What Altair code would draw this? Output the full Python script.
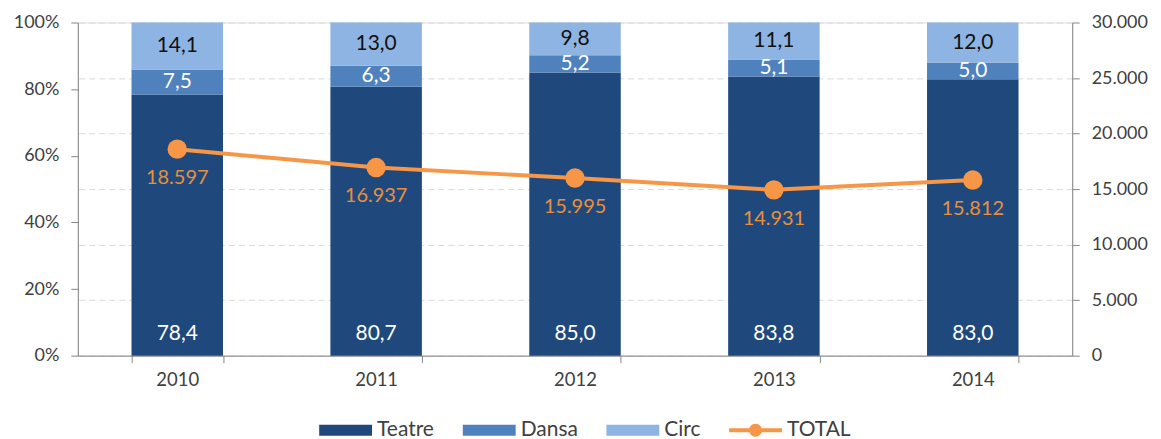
import altair as alt
import pandas as pd

years = ['2010', '2011', '2012', '2013', '2014']
teatre = [78.4, 80.7, 85.0, 83.8, 83.0]
dansa = [7.5, 6.3, 5.2, 5.1, 5.0]
circ = [14.1, 13.0, 9.8, 11.1, 12.0]
total = [18597, 16937, 15995, 14931, 15812]

series = ['Teatre', 'Dansa', 'Circ', 'TOTAL']
colors = ['#1F497D', '#4F81BD', '#8DB4E2', '#F79646']
label_colors = {'Teatre': '#FFFFFF', 'Dansa': '#FFFFFF', 'Circ': '#111111'}

FONT = 'Lato'
AXC = '#868686'
TXT = '#404040'

rows = []
for i, yr in enumerate(years):
    base = 0.0
    for k, (name, vals) in enumerate([('Teatre', teatre), ('Dansa', dansa), ('Circ', circ)]):
        v = vals[i]
        rows.append({'year': yr, 'serie': name, 'ord': k, 'pct': v / 100,
                     'mid': (base + v / 2) / 100,
                     'label': f'{v:.1f}'.replace('.', ','), 'lc': label_colors[name]})
        base += v
bars_df = pd.DataFrame(rows)

tot_df = pd.DataFrame({'year': years, 'total': total, 'serie': ['TOTAL'] * len(years),
                       'label': [f'{t:,}'.replace(',', '.') for t in total]})

rect_path = 'M-1,-0.21H1V0.21H-1Z'
tot_path = ('M-1,-0.075H1V0.075H-1Z '
            'M0.245,0A0.245,0.245,0,1,1,-0.245,0A0.245,0.245,0,1,1,0.245,0Z')
shapes = [rect_path, rect_path, rect_path, tot_path]

color_scale = alt.Scale(domain=series, range=colors)
shape_scale = alt.Scale(domain=series, range=shapes)

legend = alt.Legend(orient='none', legendX=242, legendY=382, direction='horizontal',
                    title=None, labelFont=FONT, labelFontSize=21, labelColor=TXT,
                    symbolSize=2809, symbolOpacity=1, symbolStrokeWidth=0,
                    columnPadding=28, labelOffset=5, padding=0)

xenc = alt.X('year:N', title=None, sort=years,
             scale=alt.Scale(paddingInner=0.54, paddingOuter=0.27),
             axis=alt.Axis(labelAngle=0, tickBand='extent', domainColor=AXC, tickColor=AXC,
                           tickSize=7, labelFont=FONT, labelFontSize=18.5, labelColor=TXT,
                           labelPadding=8, grid=False))

yL = alt.Y('pct:Q', stack='zero', title=None,
           scale=alt.Scale(domain=[0, 1], nice=False),
           axis=alt.Axis(format='.0%', values=[0, 0.2, 0.4, 0.6, 0.8, 1.0], grid=False,
                         domainColor=AXC, tickColor=AXC, tickSize=7, labelFont=FONT,
                         labelFontSize=18, labelColor=TXT, labelPadding=12))

bars = alt.Chart(bars_df).mark_bar().encode(
    x=xenc, y=yL,
    color=alt.Color('serie:N', scale=color_scale, legend=legend),
    order=alt.Order('ord:Q'),
)

mid_labels = alt.Chart(bars_df).transform_filter(alt.datum.serie != 'Teatre').mark_text(
    font=FONT, fontSize=21, baseline='middle'
).encode(
    x=alt.X('year:N', sort=years),
    y=alt.Y('mid:Q', stack=None),
    text='label:N',
    color=alt.Color('lc:N', scale=None),
)

bottom_labels = alt.Chart(bars_df).transform_filter(alt.datum.serie == 'Teatre').mark_text(
    font=FONT, fontSize=21, baseline='alphabetic', dy=-16, color='#FFFFFF'
).encode(
    x=alt.X('year:N', sort=years),
    y=alt.datum(0),
    text='label:N',
)

left = alt.layer(bars, mid_labels, bottom_labels)

yR = alt.Y('total:Q', title=None, scale=alt.Scale(domain=[0, 30000], nice=False),
           axis=alt.Axis(orient='right', values=list(range(0, 30001, 5000)),
                         labelExpr="replace(format(datum.value, ',d'), ',', '.')",
                         grid=True, gridDash=[6, 4], gridColor='#D9D9D9', gridWidth=1,
                         domainColor=AXC, tickColor=AXC, tickSize=7, labelFont=FONT,
                         labelFontSize=18, labelColor=TXT, labelPadding=12))

line = alt.Chart(tot_df).mark_line(color='#F79646', strokeWidth=4).encode(
    x=alt.X('year:N', sort=years), y=yR)

pts = alt.Chart(tot_df).mark_circle(color='#F79646', size=380, opacity=1).encode(
    x=alt.X('year:N', sort=years), y=alt.Y('total:Q'))

legend_pts = alt.Chart(tot_df).mark_point(filled=True, opacity=0, size=10).encode(
    x=alt.X('year:N', sort=years), y=alt.Y('total:Q'),
    color=alt.Color('serie:N', scale=color_scale, legend=legend),
    shape=alt.Shape('serie:N', scale=shape_scale, legend=legend),
)

tot_labels = alt.Chart(tot_df).mark_text(
    font=FONT, fontSize=20, color='#E98F3B', baseline='middle', dy=29
).encode(
    x=alt.X('year:N', sort=years), y=alt.Y('total:Q'), text='label:N')

right = alt.layer(line, pts, legend_pts, tot_labels)

chart = alt.layer(left, right).resolve_scale(y='independent').properties(
    width=997, height=334,
    padding={'left': 5, 'top': 5, 'right': 5, 'bottom': 0},
).configure_view(stroke=None).configure(font=FONT)

chart.save('out.html', embed_options={'renderer': 'svg', 'actions': False})
